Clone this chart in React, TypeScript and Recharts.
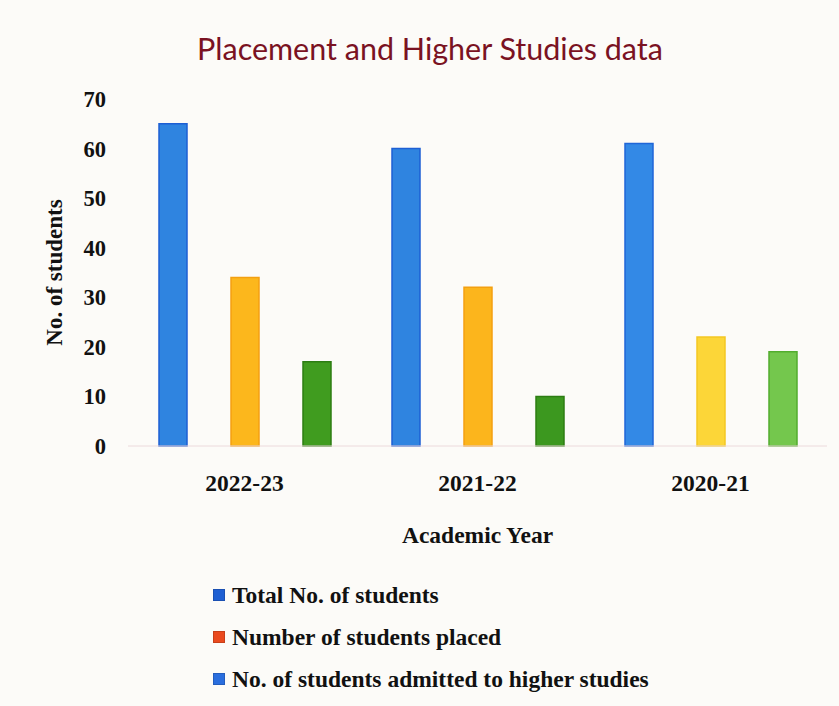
import React from 'react';
import { BarChart, Bar, XAxis, YAxis, Legend, Cell, Label } from 'recharts';

const years = ['2022-23', '2021-22', '2020-21'];
const totalStudents = [65, 60, 61];
const placedStudents = [34, 32, 22];
const higherStudies = [17, 10, 19];
const yTicks = [0, 10, 20, 30, 40, 50, 60, 70];
const seriesNames = ['Total No. of students', 'Number of students placed', 'No. of students admitted to higher studies'];

const totalColors = ['#2f84e0', '#2f84e0', '#3389e6'];
const totalEdges = ['#1d5fd4', '#1d5fd4', '#1f66d8'];
const placedColors = ['#fcb71c', '#fcb51c', '#fcd638'];
const placedEdges = ['#f3a010', '#f3a010', '#f3c722'];
const higherColors = ['#409c1f', '#3c981f', '#74c74d'];
const higherEdges = ['#2c7d12', '#2c7d12', '#52ad2e'];

const legendColors = ['#1f5fd2', '#ea4a1e', '#2a6ede'];

const data = years.map((y, i) => ({
  year: y,
  total: totalStudents[i],
  placed: placedStudents[i],
  higher: higherStudies[i],
}));

const serif = '"Liberation Serif", "Times New Roman", serif';

const LegendContent = (props: any) => {
  const payload = [...(props.payload || [])].sort(
    (a: any, b: any) => seriesNames.indexOf(a.value) - seriesNames.indexOf(b.value)
  );
  return (
    <div style={{ fontFamily: serif, fontWeight: 'bold', fontSize: 23.5, color: '#111' }}>
      {payload.map((p: any, i: number) => (
        <div key={i} style={{ display: 'flex', alignItems: 'center', height: 42, lineHeight: '42px' }}>
          <span style={{ display: 'inline-block', width: 10, height: 10, background: legendColors[seriesNames.indexOf(p.value)], marginRight: 7, border: '1px solid rgba(0,0,0,0.15)' }} />
          <span>{p.value}</span>
        </div>
      ))}
    </div>
  );
};

export default function App() {
  return (
    <div style={{ position: 'absolute', left: 0, top: 0, width: 839, height: 706, background: '#fcfbf8', overflow: 'hidden' }}>
      <div style={{ position: 'absolute', left: 0, top: 30, width: 860, textAlign: 'center', fontFamily: 'Lato, "Open Sans", sans-serif', fontSize: 30.5, color: '#7a1222' }}>
        Placement and Higher Studies data
      </div>
      <BarChart width={839} height={706} data={data} margin={{ top: 99, right: 12, bottom: 150, left: 0 }} barSize={28} barGap={44}>
        <XAxis
          dataKey="year"
          axisLine={{ stroke: '#ecdadc' }}
          tickLine={false}
          tickMargin={22}
          height={110}
          tick={{ fontFamily: serif, fontWeight: 'bold', fontSize: 23.5, fill: '#111' }}
        >
          <Label value="Academic Year" position="insideBottom" offset={13} style={{ fontFamily: serif, fontWeight: 'bold', fontSize: 23.5, fill: '#111' }} />
        </XAxis>
        <YAxis
          width={128}
          domain={[0, 70]}
          ticks={yTicks}
          axisLine={false}
          tickLine={false}
          tickMargin={16}
          tick={{ fontFamily: serif, fontWeight: 'bold', fontSize: 22.5, fill: '#111' }}
        >
          <Label value="No. of students" angle={-90} position="insideLeft" offset={54} style={{ textAnchor: 'middle', fontFamily: serif, fontWeight: 'bold', fontSize: 23, fill: '#111' }} />
        </YAxis>
        <Legend
          layout="vertical"
          align="center"
          verticalAlign="middle"
          content={<LegendContent />}
          wrapperStyle={{ position: 'absolute', left: 213, top: 574, width: 520, height: 126 }}
        />
        <Bar dataKey="total" name={seriesNames[0]} fill={legendColors[0]} isAnimationActive={false}>
          {data.map((d, i) => (
            <Cell key={d.year} fill={totalColors[i]} stroke={totalEdges[i]} strokeWidth={1.5} />
          ))}
        </Bar>
        <Bar dataKey="placed" name={seriesNames[1]} fill={legendColors[1]} isAnimationActive={false}>
          {data.map((d, i) => (
            <Cell key={d.year} fill={placedColors[i]} stroke={placedEdges[i]} strokeWidth={1.5} />
          ))}
        </Bar>
        <Bar dataKey="higher" name={seriesNames[2]} fill={legendColors[2]} isAnimationActive={false}>
          {data.map((d, i) => (
            <Cell key={d.year} fill={higherColors[i]} stroke={higherEdges[i]} strokeWidth={1.5} />
          ))}
        </Bar>
      </BarChart>
    </div>
  );
}
